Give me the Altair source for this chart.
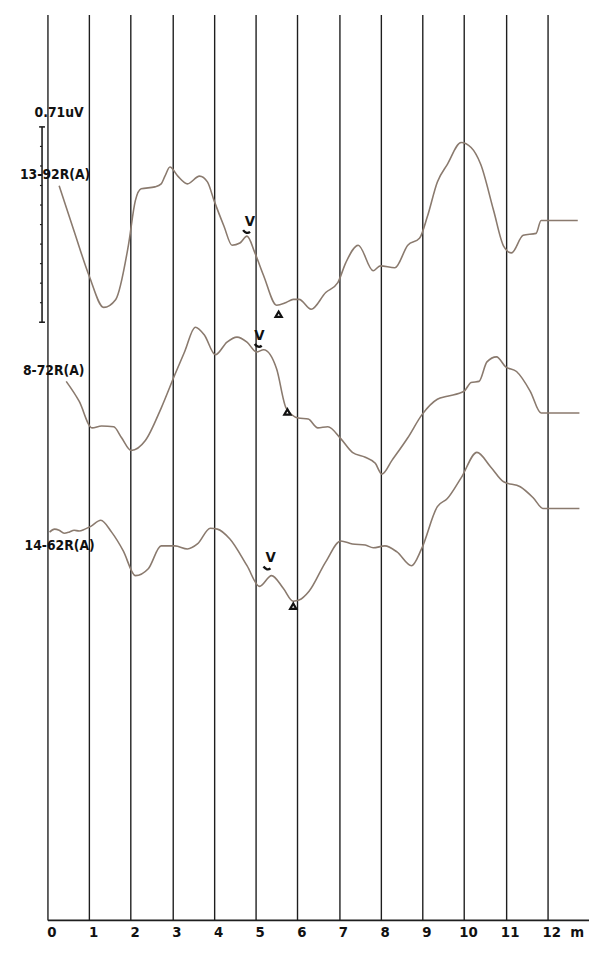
import altair as alt
import pandas as pd

# ---- data (latency in ms, amplitude in uV) ----
trace_names = ["13-92R(A)", "8-72R(A)", "14-62R(A)"]
trace_offsets = [-0.749, -1.449, -1.796]

ms_a = [0.28, 0.64, 1.00, 1.35, 1.64, 1.94, 2.11, 2.25, 2.58, 2.73, 2.82, 2.94, 3.13, 3.36, 3.65,
        3.84, 4.00, 4.24, 4.43, 4.62, 4.79, 4.98, 5.19, 5.50, 5.73, 5.90, 6.04, 6.33, 6.68, 6.97,
        7.16, 7.46, 7.82, 7.99, 8.34, 8.65, 8.93, 9.12, 9.36, 9.60, 9.93, 10.17, 10.40, 10.71, 10.95,
        11.14, 11.42, 11.73, 11.85, 12.73]
amp_a = [0.126, -0.039, -0.201, -0.316, -0.287, -0.093, 0.072, 0.115, 0.122, 0.133, 0.161, 0.194,
         0.161, 0.133, 0.161, 0.140, 0.072, -0.022, -0.090, -0.082, -0.057, -0.118, -0.201, -0.308,
         -0.298, -0.287, -0.287, -0.323, -0.262, -0.226, -0.154, -0.090, -0.183, -0.165, -0.172,
         -0.090, -0.065, 0.014, 0.140, 0.204, 0.283, 0.265, 0.204, 0.036, -0.093, -0.118, -0.054,
         -0.047, 0.0, 0.0]

ms_b = [0.45, 0.76, 1.07, 1.30, 1.59, 1.78, 2.01, 2.35, 2.73, 3.06, 3.29, 3.55, 3.77, 4.03, 4.31,
        4.55, 4.79, 5.02, 5.19, 5.50, 5.73, 6.02, 6.26, 6.49, 6.73, 7.04, 7.32, 7.63, 7.87, 8.03,
        8.27, 8.65, 9.00, 9.36, 9.60, 10.00, 10.17, 10.36, 10.55, 10.78, 11.00, 11.26, 11.59, 11.85, 12.77]
amp_b = [0.115, 0.043, -0.054, -0.047, -0.050, -0.090, -0.136, -0.100, 0.018, 0.140, 0.222, 0.312,
         0.283, 0.212, 0.258, 0.276, 0.258, 0.222, 0.230, 0.161, 0.018, -0.018, -0.022, -0.054,
         -0.050, -0.093, -0.143, -0.161, -0.183, -0.222, -0.172, -0.090, -0.004, 0.050, 0.061,
         0.079, 0.111, 0.115, 0.186, 0.204, 0.168, 0.151, 0.079, 0.0, 0.0]

ms_c = [0.05, 0.17, 0.28, 0.40, 0.52, 0.64, 0.76, 0.90, 1.04, 1.28, 1.54, 1.82, 2.11, 2.42, 2.73,
        3.06, 3.36, 3.60, 3.91, 4.08, 4.38, 4.79, 5.09, 5.38, 5.66, 5.90, 6.04, 6.28, 6.68, 7.04,
        7.32, 7.63, 7.82, 8.10, 8.39, 8.74, 8.98, 9.36, 9.60, 9.93, 10.31, 10.64, 10.95, 11.35,
        11.66, 11.90, 12.77]
amp_c = [-0.086, -0.075, -0.079, -0.090, -0.086, -0.079, -0.082, -0.075, -0.065, -0.043, -0.086,
         -0.154, -0.244, -0.219, -0.136, -0.136, -0.147, -0.129, -0.072, -0.075, -0.111, -0.208,
         -0.283, -0.244, -0.290, -0.337, -0.333, -0.301, -0.194, -0.118, -0.129, -0.133, -0.143,
         -0.136, -0.158, -0.208, -0.147, 0.007, 0.036, 0.111, 0.204, 0.151, 0.097, 0.079, 0.039,
         0.0, 0.0]

# wave V label, its small mark, and the trough triangle (ms, amplitude)
v_text_ms = [4.86, 5.09, 5.36]
v_text_amp = [-0.004, 0.283, -0.176]
v_mark_ms = [4.78, 5.06, 5.27]
v_mark_amp = [-0.039, 0.247, -0.215]
tri_ms = [5.55, 5.76, 5.90]
tri_amp = [-0.341, 0.004, -0.355]

# text labels at the left (ms, uV position)
label_texts = ["0.71uV", "13-92R(A)", "8-72R(A)", "14-62R(A)"]
label_ms = [-0.31, -0.66, -0.59, -0.55]
label_pos = [-0.359, -0.584, -1.298, -1.933]

# calibration bar: 0.71 uV
bar_ms = -0.13
bar_top = -0.409
bar_size = 0.71
bar_divisions = 10

x_ticks = list(range(0, 13))
unit_text = "m"
unit_ms = 12.55

PLOT_H = 918
Y_MAX = 0.0
Y_MIN = -PLOT_H / 278.9
X_MIN, X_MAX = 0.0, 13.0

FONT = "DejaVu Sans Condensed, DejaVu Sans"
TRACE_COLOR = "#8a7a6e"
INK = "#1e1e1e"

# ---- tables ----
rows = []
for name, off, xs_, ys_ in zip(trace_names, trace_offsets, [ms_a, ms_b, ms_c], [amp_a, amp_b, amp_c]):
    for x, a in zip(xs_, ys_):
        rows.append({"trace": name, "ms": x, "y": off + a})
traces = pd.DataFrame(rows)

vtext = pd.DataFrame({"ms": v_text_ms, "y": [o + a for o, a in zip(trace_offsets, v_text_amp)], "t": ["V"] * 3})
vmark = pd.DataFrame({"ms": v_mark_ms, "y": [o + a for o, a in zip(trace_offsets, v_mark_amp)]})
tri = pd.DataFrame({"ms": tri_ms, "y": [o + a for o, a in zip(trace_offsets, tri_amp)]})
labels = pd.DataFrame({"ms": label_ms, "y": label_pos, "t": label_texts})
unit = pd.DataFrame({"ms": [unit_ms], "y": [Y_MIN], "t": [unit_text]})

bar = pd.DataFrame({"ms": [bar_ms], "y": [bar_top], "y2": [bar_top - bar_size]})
caps = pd.DataFrame({"ms": [bar_ms - 0.07] * 2, "ms2": [bar_ms + 0.07] * 2,
                     "y": [bar_top, bar_top - bar_size]})
ticks = pd.DataFrame({"ms": [bar_ms - 0.05] * (bar_divisions - 1), "ms2": [bar_ms] * (bar_divisions - 1),
                      "y": [bar_top - bar_size * i / bar_divisions for i in range(1, bar_divisions)]})

xs = alt.Scale(domain=[X_MIN, X_MAX], nice=False, zero=False)
ys = alt.Scale(domain=[Y_MIN, Y_MAX], nice=False, zero=False)

x_axis = alt.Axis(values=x_ticks, grid=True, gridColor=INK, gridWidth=1.4, gridOpacity=1,
                  domainColor=INK, domainWidth=1.6, ticks=False, labelFont=FONT, labelFontSize=15,
                  labelFontWeight="bold", labelColor="#111", labelOffset=4, labelPadding=5,
                  title=None, labelFlush=False)

base_x = alt.X("ms:Q", scale=xs, axis=x_axis)
lines = alt.Chart(traces).mark_line(color=TRACE_COLOR, strokeWidth=1.6, interpolate="monotone").encode(
    x=base_x, y=alt.Y("y:Q", scale=ys, axis=None), detail="trace:N")

vt = alt.Chart(vtext).mark_text(font=FONT, fontSize=15, fontWeight="bold", color="#111").encode(
    x=alt.X("ms:Q", scale=xs), y=alt.Y("y:Q", scale=ys), text="t:N")
vm = alt.Chart(vmark).mark_point(shape="M -1 -0.3 Q 0 1 1 0.2", filled=False, size=50,
                                 stroke="#111", strokeWidth=2.4, opacity=1).encode(
    x=alt.X("ms:Q", scale=xs), y=alt.Y("y:Q", scale=ys))
tr = alt.Chart(tri).mark_point(shape="triangle-up", filled=False, size=40, stroke="#111",
                               strokeWidth=2.2, opacity=1).encode(
    x=alt.X("ms:Q", scale=xs), y=alt.Y("y:Q", scale=ys))
lab = alt.Chart(labels).mark_text(font=FONT, fontSize=14, fontWeight="bold", color="#111",
                                  align="left", baseline="middle").encode(
    x=alt.X("ms:Q", scale=xs), y=alt.Y("y:Q", scale=ys), text="t:N")
un = alt.Chart(unit).mark_text(font=FONT, fontSize=15, fontWeight="bold", color="#111",
                               align="left", baseline="top", dy=5).encode(
    x=alt.X("ms:Q", scale=xs), y=alt.Y("y:Q", scale=ys), text="t:N")
bar_m = alt.Chart(bar).mark_rule(color=INK, strokeWidth=1.6).encode(
    x=alt.X("ms:Q", scale=xs), y=alt.Y("y:Q", scale=ys), y2="y2:Q")
caps_m = alt.Chart(caps).mark_rule(color=INK, strokeWidth=1.6).encode(
    x=alt.X("ms:Q", scale=xs), x2="ms2:Q", y=alt.Y("y:Q", scale=ys))
ticks_m = alt.Chart(ticks).mark_rule(color=INK, strokeWidth=1.2).encode(
    x=alt.X("ms:Q", scale=xs), x2="ms2:Q", y=alt.Y("y:Q", scale=ys))

chart = alt.layer(lines, bar_m, caps_m, ticks_m, lab, vt, vm, tr, un).properties(
    width=549, height=PLOT_H,
    autosize=alt.AutoSizeParams(type="none"),
    padding={"left": 40, "top": 0, "right": 0, "bottom": 22},
    background="white",
).configure_view(stroke=None)

chart.save("out.html", embed_options={"renderer": "svg", "actions": False})
